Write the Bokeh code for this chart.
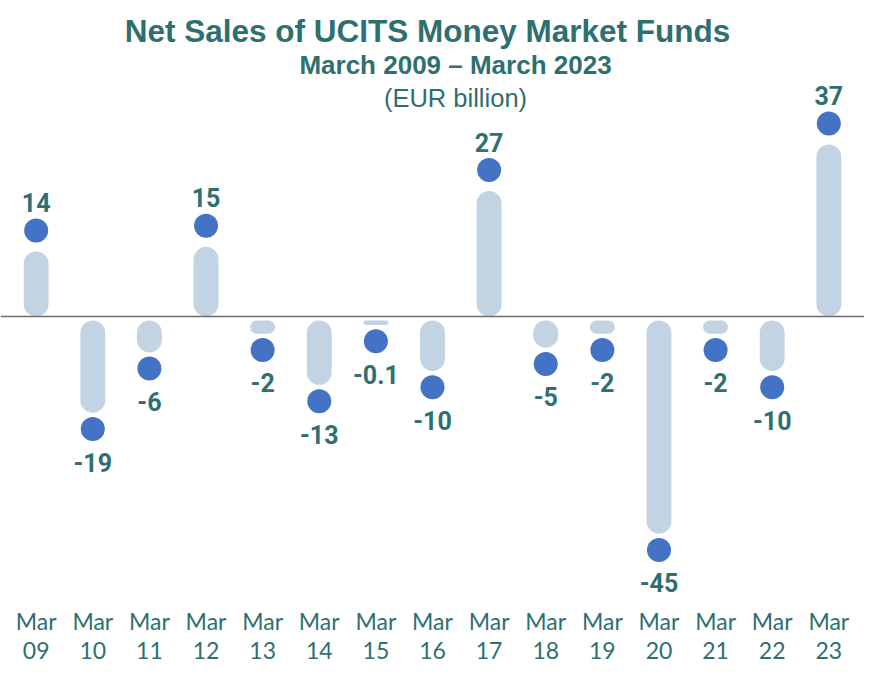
from bokeh.plotting import figure
from bokeh.models import Span, Label, ColumnDataSource, FactorRange
from bokeh.embed import file_html
from bokeh.resources import INLINE
from bokeh.core.properties import value

categories = ["Mar 09", "Mar 10", "Mar 11", "Mar 12", "Mar 13", "Mar 14", "Mar 15",
              "Mar 16", "Mar 17", "Mar 18", "Mar 19", "Mar 20", "Mar 21", "Mar 22", "Mar 23"]
tick_labels = ["Mar\n09", "Mar\n10", "Mar\n11", "Mar\n12", "Mar\n13", "Mar\n14", "Mar\n15",
               "Mar\n16", "Mar\n17", "Mar\n18", "Mar\n19", "Mar\n20", "Mar\n21", "Mar\n22", "Mar\n23"]
net_sales = [14, -19, -6, 15, -2, -13, -0.1, -10, 27, -5, -2, -45, -2, -10, 37]
value_labels = ["14", "-19", "-6", "15", "-2", "-13", "-0.1", "-10", "27", "-5", "-2", "-45", "-2", "-10", "37"]

TEAL = "#2e6f70"
BAR = "#c2d4e4"
DOT = "#4472c4"

gap = 0.85       # visual gap between baseline and negative bars (data units)
neg_pad = 0.85   # extra rounded-end length of negative bars
pos_dot = 4.5    # distance from bar end to dot (data units)
neg_dot = 3.5

tops, bottoms, dot_y, lab_off = [], [], [], []
for v in net_sales:
    if v >= 0:
        tops.append(v); bottoms.append(0)
        dot_y.append(v + pos_dot); lab_off.append(-28)
    else:
        tops.append(-gap); bottoms.append(v - gap - neg_pad)
        dot_y.append(v - gap - neg_pad - neg_dot); lab_off.append(33)

src = ColumnDataSource(dict(cat=categories, top=tops, bottom=bottoms,
                            dy=dot_y, lab=value_labels, loff=lab_off,
                            tick=tick_labels, ty=[-68.6] * len(categories)))

W, H = 864, 667
p = figure(width=W, height=H,
           x_range=FactorRange(*categories, range_padding=0.13, range_padding_units="absolute"),
           y_range=(-75.48, 67.96),
           output_backend="svg", toolbar_location=None,
           min_border_left=0, min_border_right=0, min_border_top=0, min_border_bottom=0)
p.outline_line_color = None
p.grid.visible = False
p.axis.visible = False
p.background_fill_color = "white"
p.border_fill_color = "white"

p.add_layout(Span(location=0, dimension="width", line_color="#6d6d6d", line_width=1.5))

p.vbar(x="cat", top="top", bottom="bottom", width=0.44, source=src,
       fill_color=BAR, line_color=None, border_radius=13)
p.scatter(x="cat", y="dy", size=24, source=src, fill_color=DOT, line_color=None)
p.text(x="cat", y="dy", text="lab", y_offset="loff", source=src,
       text_align="center", text_baseline="middle",
       text_font=value("Roboto"), text_font_style="bold", text_font_size="25px",
       text_color=TEAL)

# category labels (two lines each)
p.text(x="cat", y="ty", text="tick", source=src, text_align="center",
       text_baseline="middle", text_font=value("Lato"), text_font_size="23px",
       text_line_height=1.05, text_color=TEAL)

p.add_layout(Label(x=427, y=H - 30, x_units="screen", y_units="screen",
                   text="Net Sales of UCITS Money Market Funds", text_align="center",
                   text_baseline="middle", text_font="Liberation Sans", text_font_style="bold",
                   text_font_size="31.5px", text_color=TEAL))
p.add_layout(Label(x=455, y=H - 64, x_units="screen", y_units="screen",
                   text="March 2009 \u2013 March 2023", text_align="center",
                   text_baseline="middle", text_font="Liberation Sans", text_font_style="bold",
                   text_font_size="26px", text_color=TEAL))
p.add_layout(Label(x=455, y=H - 97, x_units="screen", y_units="screen",
                   text="(EUR billion)", text_align="center",
                   text_baseline="middle", text_font="Liberation Sans",
                   text_font_size="25.5px", text_color=TEAL))

open("out.html", "w").write(file_html(p, INLINE))
